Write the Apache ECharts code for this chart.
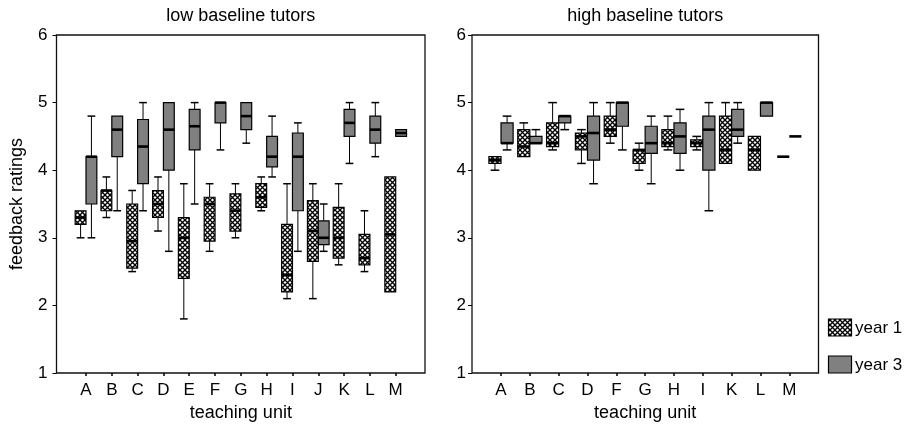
<!DOCTYPE html>
<html><head><meta charset="utf-8">
<script src="https://cdn.jsdelivr.net/npm/echarts@6/dist/echarts.min.js"></script>
<style>html,body{margin:0;padding:0;background:#fff}#c{width:911px;height:433px}</style>
</head><body><div id="c"></div>
<script>
// ---- data: each entry is [low whisker, Q1, median, Q3, high whisker] ----
const leftUnits = ['A','B','C','D','E','F','G','H','I','J','K','L','M'];
const leftYear1 = [
  [3.0, 3.2, 3.3, 3.4, 3.4],
  [3.3, 3.4, 3.7, 3.7, 3.9],
  [2.5, 2.55, 2.95, 3.5, 3.7],
  [3.1, 3.3, 3.5, 3.7, 3.9],
  [1.8, 2.4, 3.0, 3.3, 3.8],
  [2.8, 2.95, 3.5, 3.6, 3.8],
  [3.0, 3.1, 3.4, 3.65, 3.8],
  [3.4, 3.45, 3.6, 3.8, 3.9],
  [2.1, 2.2, 2.45, 3.2, 3.8],
  [2.1, 2.65, 3.1, 3.55, 3.8],
  [2.6, 2.7, 3.0, 3.45, 3.8],
  [2.5, 2.6, 2.7, 3.05, 3.4],
  [2.2, 2.2, 3.05, 3.9, 3.9]
];
const leftYear3 = [
  [3.0, 3.5, 4.2, 4.2, 4.8],
  [3.4, 4.2, 4.6, 4.8, 4.8],
  [3.4, 3.8, 4.35, 4.75, 5.0],
  [2.8, 4.0, 4.6, 5.0, 5.0],
  [3.5, 4.3, 4.65, 4.9, 5.0],
  [4.3, 4.7, 5.0, 5.0, 5.0],
  [4.4, 4.6, 4.8, 5.0, 5.0],
  [3.9, 4.05, 4.2, 4.5, 4.8],
  [2.8, 3.4, 4.2, 4.55, 4.7],
  [2.8, 2.9, 3.0, 3.25, 3.5],
  [4.1, 4.5, 4.7, 4.9, 5.0],
  [4.2, 4.4, 4.6, 4.8, 5.0],
  [4.5, 4.5, 4.55, 4.6, 4.6]
];
const rightUnits = ['A','B','C','D','F','G','H','I','K','L','M'];
const rightYear1 = [
  [4.0, 4.1, 4.15, 4.2, 4.2],
  [4.2, 4.2, 4.35, 4.6, 4.7],
  [4.3, 4.35, 4.4, 4.7, 5.0],
  [4.1, 4.3, 4.5, 4.55, 4.6],
  [4.4, 4.5, 4.6, 4.8, 5.0],
  [4.0, 4.1, 4.3, 4.3, 4.4],
  [4.3, 4.35, 4.4, 4.6, 4.8],
  [4.3, 4.35, 4.4, 4.45, 4.5],
  [4.1, 4.1, 4.3, 4.8, 5.0],
  [4.0, 4.0, 4.3, 4.5, 4.5],
  [4.2, 4.2, 4.2, 4.2, 4.2]
];
const rightYear3 = [
  [4.3, 4.4, 4.4, 4.7, 4.8],
  [4.4, 4.4, 4.4, 4.5, 4.6],
  [4.6, 4.7, 4.8, 4.8, 4.8],
  [3.8, 4.15, 4.55, 4.8, 5.0],
  [4.3, 4.65, 5.0, 5.0, 5.0],
  [3.8, 4.25, 4.4, 4.65, 4.8],
  [4.0, 4.25, 4.5, 4.7, 4.9],
  [3.4, 4.0, 4.6, 4.8, 5.0],
  [4.4, 4.5, 4.6, 4.9, 5.0],
  [4.8, 4.8, 5.0, 5.0, 5.0],
  [4.5, 4.5, 4.5, 4.5, 4.5]
];
const yMin = 1, yMax = 6, yStep = 1;
const seriesNames = ['year 1', 'year 3'];
const panelTitles = ['low baseline tutors', 'high baseline tutors'];

// ---- styles ----
const FONT = '"Liberation Sans", Arial, Helvetica, sans-serif';
const GRAY = '#808080';
const P = 5;
const pc = document.createElement('canvas');
pc.width = P; pc.height = P;
const ctx = pc.getContext('2d');
ctx.fillStyle = '#fff'; ctx.fillRect(0, 0, P, P);
ctx.strokeStyle = '#000'; ctx.lineWidth = 1.35;
ctx.beginPath();
ctx.moveTo(-1, -1); ctx.lineTo(P + 1, P + 1);
ctx.moveTo(P + 1, -1); ctx.lineTo(-1, P + 1);
ctx.stroke();
const HATCH = { image: pc, repeat: 'repeat' };

function makeRender(sign, fill) {
  return function (params, api) {
    const idx = api.value(0);
    const lo = api.value(1), q1 = api.value(2), md = api.value(3), q3 = api.value(4), hi = api.value(5);
    const band = api.size([1, 0])[0];
    const bw = band * 0.42;
    const cw = band * 0.3;
    const cx = api.coord([idx, md])[0] + sign * bw / 2;
    const Y = v => api.coord([idx, v])[1];
    const ch = [];
    const ls = { stroke: '#000', lineWidth: 1 };
    if (hi > q3) {
      ch.push({ type: 'line', shape: { x1: cx, y1: Y(q3), x2: cx, y2: Y(hi) }, style: ls });
      ch.push({ type: 'line', shape: { x1: cx - cw / 2, y1: Y(hi), x2: cx + cw / 2, y2: Y(hi) }, style: { stroke: '#000', lineWidth: 1.5 } });
    }
    if (lo < q1) {
      ch.push({ type: 'line', shape: { x1: cx, y1: Y(q1), x2: cx, y2: Y(lo) }, style: ls });
      ch.push({ type: 'line', shape: { x1: cx - cw / 2, y1: Y(lo), x2: cx + cw / 2, y2: Y(lo) }, style: { stroke: '#000', lineWidth: 1.5 } });
    }
    if (q3 > q1) {
      ch.push({ type: 'rect', shape: { x: cx - bw / 2, y: Y(q3), width: bw, height: Y(q1) - Y(q3) },
        style: { fill: fill, stroke: '#000', lineWidth: 1.2 } });
    }
    ch.push({ type: 'line', shape: { x1: cx - bw / 2, y1: Y(md), x2: cx + bw / 2, y2: Y(md) }, style: { stroke: '#000', lineWidth: 2.6 } });
    return { type: 'group', children: ch };
  };
}

const TOP = 35, H = 338;
const frames = [{ left: 56.5, right: 425 }, { left: 472, right: 818.5 }];
const bands = [{ left: 73.1, right: 408.6 }, { left: 486.6, right: 803.7 }];
const unitsList = [leftUnits, rightUnits];
const y1List = [leftYear1, rightYear1];
const y3List = [leftYear3, rightYear3];
const labelMargins = [9, 6];

const grid = [], xAxis = [], yAxis = [], series = [], graphic = [];
for (let p = 0; p < 2; p++) {
  const f = frames[p], b = bands[p];
  grid.push({ left: f.left, top: TOP, width: f.right - f.left, height: H, show: true,
    borderColor: '#111', borderWidth: 1.3, backgroundColor: 'transparent' });
  grid.push({ left: b.left, top: TOP, width: b.right - b.left, height: H });
  xAxis.push({ type: 'value', gridIndex: 2 * p, min: 0, max: 1, show: false });
  yAxis.push({ type: 'value', gridIndex: 2 * p, min: yMin, max: yMax, interval: yStep,
    name: p === 0 ? 'feedback ratings' : '', nameLocation: 'middle', nameGap: 30,
    nameTextStyle: { fontFamily: FONT, fontSize: 18, color: '#000' },
    axisLine: { show: false }, splitLine: { show: false },
    axisTick: { show: true, length: 4, lineStyle: { color: '#000' } },
    axisLabel: { fontFamily: FONT, fontSize: 17, color: '#000', margin: labelMargins[p] } });
  xAxis.push({ type: 'category', gridIndex: 2 * p + 1, data: unitsList[p], boundaryGap: true,
    name: 'teaching unit', nameLocation: 'middle', nameGap: 30,
    nameTextStyle: { fontFamily: FONT, fontSize: 18, color: '#000' },
    axisLine: { show: false },
    axisTick: { show: true, alignWithLabel: true, length: 3, lineStyle: { color: '#000', width: 1.5 } },
    axisLabel: { fontFamily: FONT, fontSize: 17, color: '#000', margin: 9 } });
  yAxis.push({ type: 'value', gridIndex: 2 * p + 1, min: yMin, max: yMax, interval: yStep, show: false });
  const xi = 2 * p + 1;
  series.push({ type: 'custom', name: seriesNames[0], xAxisIndex: xi, yAxisIndex: xi,
    renderItem: makeRender(-1, HATCH), encode: { x: 0, y: [1, 2, 3, 4, 5] },
    data: y1List[p].map((d, i) => [i].concat(d)) });
  series.push({ type: 'custom', name: seriesNames[1], xAxisIndex: xi, yAxisIndex: xi,
    renderItem: makeRender(1, GRAY), encode: { x: 0, y: [1, 2, 3, 4, 5] },
    data: y3List[p].map((d, i) => [i].concat(d)) });
  graphic.push({ type: 'text', x: (f.left + f.right) / 2, y: 16,
    style: { text: panelTitles[p], font: '18px ' + FONT, fill: '#000',
      align: 'center', verticalAlign: 'middle', textAlign: 'center', textVerticalAlign: 'middle' } });
}
const legFills = [HATCH, GRAY];
const legY = [319, 356];
for (let k = 0; k < 2; k++) {
  graphic.push({ type: 'rect', shape: { x: 828.5, y: legY[k], width: 23, height: 17 },
    style: { fill: legFills[k], stroke: '#000', lineWidth: 1.2 } });
  graphic.push({ type: 'text', x: 855, y: legY[k] + 9,
    style: { text: seriesNames[k], font: '17px ' + FONT, fill: '#000',
      align: 'left', verticalAlign: 'middle', textAlign: 'left', textVerticalAlign: 'middle' } });
}

const chart = echarts.init(document.getElementById('c'), null, { renderer: 'canvas' });
chart.setOption({ animation: false, backgroundColor: '#fff', grid, xAxis, yAxis, series, graphic });
</script></body></html>
